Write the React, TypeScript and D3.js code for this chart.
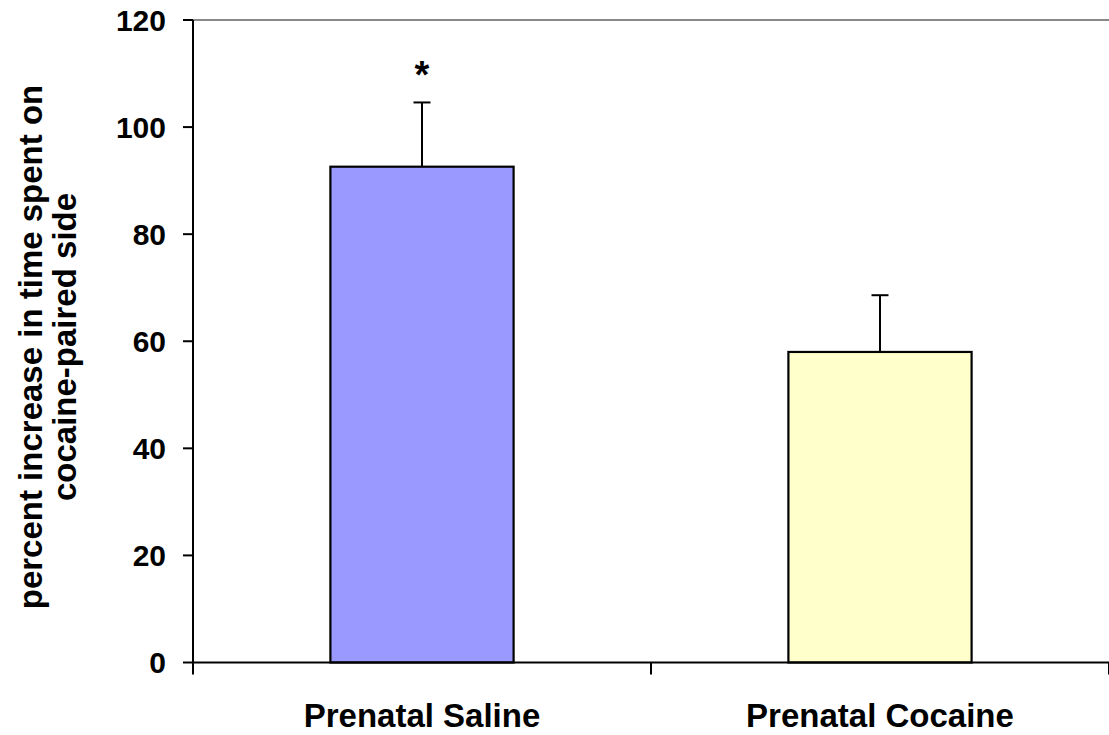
import React from "react";
import * as d3 from "d3";

const categories = ["Prenatal Saline", "Prenatal Cocaine"];
const values = [92.6, 58.0];
const errors = [12.0, 10.6];
const barColors = ["#9999FF", "#FFFFCC"];
const yTicks = [0, 20, 40, 60, 80, 100, 120];
const significance = ["*", ""];

export default function App() {
  const W = 1109, H = 735;
  const left = 193, right = 1109, top = 20, bottom = 662.5;
  const x = d3.scaleBand().domain(categories).range([left, right]).paddingInner(0).paddingOuter(0);
  const y = d3.scaleLinear().domain([0, 120]).range([bottom, top]);
  const bw = x.bandwidth() * 0.4;
  const font = "Arial, 'Liberation Sans', sans-serif";
  return (
    <svg width={W} height={H} style={{ position: "absolute", left: 0, top: 0 }}>
      <rect x={0} y={0} width={W} height={H} fill="white" />
      <line x1={left} x2={right} y1={top} y2={top} stroke="#888" strokeWidth={2} />
      {categories.map((c, i) => {
        const cx = x(c)! + x.bandwidth() / 2;
        return (
          <g key={c}>
            <line x1={cx} x2={cx} y1={y(values[i] + errors[i])} y2={y(values[i])} stroke="black" strokeWidth={2} />
            <line x1={cx - 8.5} x2={cx + 8.5} y1={y(values[i] + errors[i])} y2={y(values[i] + errors[i])} stroke="black" strokeWidth={2} />
            <rect x={cx - bw / 2} y={y(values[i])} width={bw} height={bottom - y(values[i])} fill={barColors[i]} stroke="black" strokeWidth={2.2} />
            {significance[i] && (
              <text x={cx} y={y(values[i] + errors[i]) - 14} textAnchor="middle" fontFamily={font} fontWeight="bold" fontSize={38}>{significance[i]}</text>
            )}
            <text x={cx} y={727} textAnchor="middle" fontFamily={font} fontWeight="bold" fontSize={33}>{c}</text>
          </g>
        );
      })}
      <line x1={left} x2={left} y1={top} y2={bottom} stroke="black" strokeWidth={2} />
      <line x1={left} x2={right} y1={bottom} y2={bottom} stroke="black" strokeWidth={2} />
      {yTicks.map(t => (
        <g key={t}>
          <line x1={left - 10} x2={left} y1={y(t)} y2={y(t)} stroke="black" strokeWidth={2} />
          <text x={166} y={y(t)} dy="0.36em" textAnchor="end" fontFamily={font} fontWeight="bold" fontSize={30}>{t}</text>
        </g>
      ))}
      {[0, 1, 2].map(i => {
        const xx = left + i * x.bandwidth();
        return <line key={i} x1={xx} x2={xx} y1={bottom} y2={bottom + 12} stroke="black" strokeWidth={2} />;
      })}
      <text transform="translate(42,347) rotate(-90)" textAnchor="middle" fontFamily={font} fontWeight="bold" fontSize={33}>percent increase in time spent on</text>
      <text transform="translate(76,347) rotate(-90)" textAnchor="middle" fontFamily={font} fontWeight="bold" fontSize={33}>cocaine-paired side</text>
    </svg>
  );
}
